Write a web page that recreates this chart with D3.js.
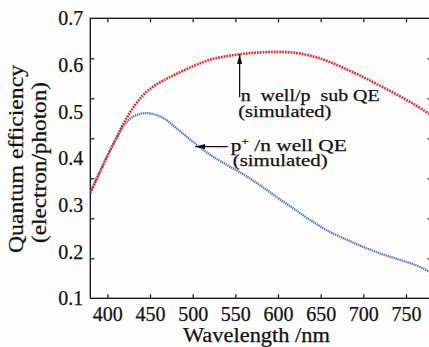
<!DOCTYPE html>
<html>
<head>
<meta charset="utf-8">
<script src="https://cdn.jsdelivr.net/npm/d3@7"></script>
<style>
  body { margin: 0; background: #fdfdfd; }
</style>
</head>
<body>
<div id="chart"></div>
<script>
  // wavelength (nm) and the two simulated QE curves
  var wavelengths = [380, 390, 400, 410, 420, 430, 440, 450, 460, 470, 480, 500, 520, 540, 560, 580, 600, 620, 640, 660, 680, 700, 720, 740, 760, 780];
  var nWellPsubQE = [0.326, 0.366, 0.405, 0.442, 0.478, 0.508, 0.532, 0.549, 0.561, 0.571, 0.580, 0.597, 0.611, 0.619, 0.624, 0.627, 0.628, 0.626, 0.619, 0.607, 0.591, 0.574, 0.555, 0.536, 0.515, 0.492];
  var pPlusNwellQE = [0.326, 0.366, 0.405, 0.440, 0.472, 0.489, 0.496, 0.496, 0.491, 0.481, 0.466, 0.436, 0.408, 0.386, 0.365, 0.341, 0.315, 0.290, 0.265, 0.243, 0.226, 0.210, 0.196, 0.184, 0.172, 0.155];

  var xTicks = [400, 450, 500, 550, 600, 650, 700, 750];
  var yTicks = [0.1, 0.2, 0.3, 0.4, 0.5, 0.6, 0.7];
  // the frame's y tick marks sit on 7 equal steps, not on the labels
  var yTickMarks = [1, 2, 3, 4, 5, 6];

  var width = 429,
      height = 347,
      font = "'Liberation Serif', 'DejaVu Serif', serif";

  var svg = d3.select("#chart")
        .append("svg")
        .attr("width", width)
        .attr("height", height)
        .attr("font-family", font);

  var x = d3.scaleLinear().domain([380, 780]).range([90.3, 431.6]);
  var y = d3.scaleLinear().domain([0.1, 0.7]).range([298.3, 18.3]);
  var yMark = d3.scaleLinear().domain([0, 7]).range([298.3, 18.3]);

  var defs = svg.append("defs");
  defs.append("clipPath")
      .attr("id", "plot-clip")
    .append("rect")
      .attr("x", x(380))
      .attr("y", y(0.7))
      .attr("width", x(780) - x(380))
      .attr("height", y(0.1) - y(0.7));

  var arrow = defs.append("marker")
      .attr("id", "arrow")
      .attr("viewBox", "0 -3 10 6")
      .attr("refX", 10)
      .attr("refY", 0)
      .attr("markerUnits", "userSpaceOnUse")
      .attr("markerWidth", 10)
      .attr("markerHeight", 6)
      .attr("orient", "auto");
  arrow.append("path")
      .attr("d", "M0,-2.6L10,0L0,2.6Z")
      .attr("fill", "#111");

  function styleAxis(g, size) {
    g.select(".domain").remove();
    g.attr("font-family", font).attr("font-size", size);
    g.selectAll(".tick line").attr("stroke", "#111").attr("stroke-width", 1.2);
    g.selectAll(".tick text").attr("fill", "#111")
      .attr("stroke", "#111").attr("stroke-width", 0.25);
  }

  // bottom axis with labels
  svg.append("g")
      .attr("transform", "translate(0," + y(0.1) + ")")
      .call(d3.axisBottom(x).tickValues(xTicks).tickSize(-4).tickPadding(9))
      .call(function(g) { styleAxis(g, 20); });

  // top axis, marks only
  svg.append("g")
      .attr("transform", "translate(0," + y(0.7) + ")")
      .call(d3.axisTop(x).tickValues(xTicks).tickSize(-4).tickFormat(""))
      .call(function(g) { styleAxis(g, 20); });

  // left labels
  svg.append("g")
      .attr("transform", "translate(" + x(380) + ",0)")
      .call(d3.axisLeft(y).tickValues(yTicks).tickSize(0).tickPadding(7).tickFormat(d3.format(".1f")))
      .call(function(g) { styleAxis(g, 20); });

  // left + right tick marks
  svg.append("g")
      .attr("transform", "translate(" + x(380) + ",0)")
      .call(d3.axisLeft(yMark).tickValues(yTickMarks).tickSize(-4).tickFormat(""))
      .call(function(g) { styleAxis(g, 20); });
  svg.append("g")
      .attr("transform", "translate(" + x(780) + ",0)")
      .call(d3.axisRight(yMark).tickValues(yTickMarks).tickSize(-4).tickFormat(""))
      .call(function(g) { styleAxis(g, 20); });

  svg.append("rect")
      .attr("x", x(380))
      .attr("y", y(0.7))
      .attr("width", x(780) - x(380))
      .attr("height", y(0.1) - y(0.7))
      .attr("fill", "none")
      .attr("stroke", "#111")
      .attr("stroke-width", 1.3);

  var line = d3.line()
      .x(function(d, i) { return x(wavelengths[i]); })
      .y(function(d) { return y(d); })
      .curve(d3.curveCatmullRom);

  var curves = svg.append("g").attr("clip-path", "url(#plot-clip)");

  curves.append("path")
      .datum(pPlusNwellQE)
      .attr("d", line)
      .attr("fill", "none")
      .attr("stroke", "#4e6ec4")
      .attr("stroke-width", 2.3)
      .attr("stroke-dasharray", "1.3,0.8");

  curves.append("path")
      .datum(nWellPsubQE)
      .attr("d", line)
      .attr("fill", "none")
      .attr("stroke", "#f02828")
      .attr("stroke-width", 2.6)
      .attr("stroke-dasharray", "1.8,1");

  // annotation arrows
  svg.append("line")
      .attr("x1", x(555)).attr("y1", y(0.531))
      .attr("x2", x(555)).attr("y2", y(0.623))
      .attr("stroke", "#111")
      .attr("stroke-width", 1.3)
      .attr("marker-end", "url(#arrow)");

  svg.append("line")
      .attr("x1", x(541)).attr("y1", y(0.425))
      .attr("x2", x(503)).attr("y2", y(0.425))
      .attr("stroke", "#111")
      .attr("stroke-width", 1.3)
      .attr("marker-end", "url(#arrow)");

  function label(tx, ty, text, len, size) {
    return svg.append("text")
      .attr("x", tx)
      .attr("y", ty)
      .attr("font-family", font)
      .attr("font-size", size)
      .attr("fill", "#111")
      .attr("stroke", "#111")
      .attr("stroke-width", 0.25)
      .attr("textLength", len)
      .attr("lengthAdjust", "spacingAndGlyphs")
      .style("white-space", "pre")
      .text(text);
  }

  label(240.7, 100.7, "n  well/p  sub QE", 139, 16.5);
  label(238.3, 116.5, "(simulated)", 93, 16.5);

  var pLabel = svg.append("text")
      .attr("x", 230.7)
      .attr("y", 150.7)
      .attr("font-family", font)
      .attr("font-size", 16.5)
      .attr("fill", "#111")
      .attr("stroke", "#111")
      .attr("stroke-width", 0.25)
      .attr("textLength", 116)
      .attr("lengthAdjust", "spacingAndGlyphs")
      .style("white-space", "pre");
  pLabel.append("tspan").text("p");
  pLabel.append("tspan").attr("dy", -6).attr("font-size", 10.5).text("+");
  pLabel.append("tspan").attr("dy", 6).text(" /n well QE");

  label(232.7, 166, "(simulated)", 95, 16.5);

  // axis titles
  label(183, 342, "Wavelength /nm", 147, 20);

  svg.append("text")
      .attr("transform", "translate(23,159)rotate(-90)")
      .attr("text-anchor", "middle")
      .attr("font-family", font)
      .attr("font-size", 20)
      .attr("fill", "#111")
      .attr("stroke", "#111")
      .attr("stroke-width", 0.25)
      .attr("textLength", 188)
      .attr("lengthAdjust", "spacingAndGlyphs")
      .text("Quantum efficiency");

  svg.append("text")
      .attr("transform", "translate(46,162.5)rotate(-90)")
      .attr("text-anchor", "middle")
      .attr("font-family", font)
      .attr("font-size", 20)
      .attr("fill", "#111")
      .attr("stroke", "#111")
      .attr("stroke-width", 0.25)
      .attr("textLength", 161)
      .attr("lengthAdjust", "spacingAndGlyphs")
      .text("(electron/photon)");
</script>
</body>
</html>
